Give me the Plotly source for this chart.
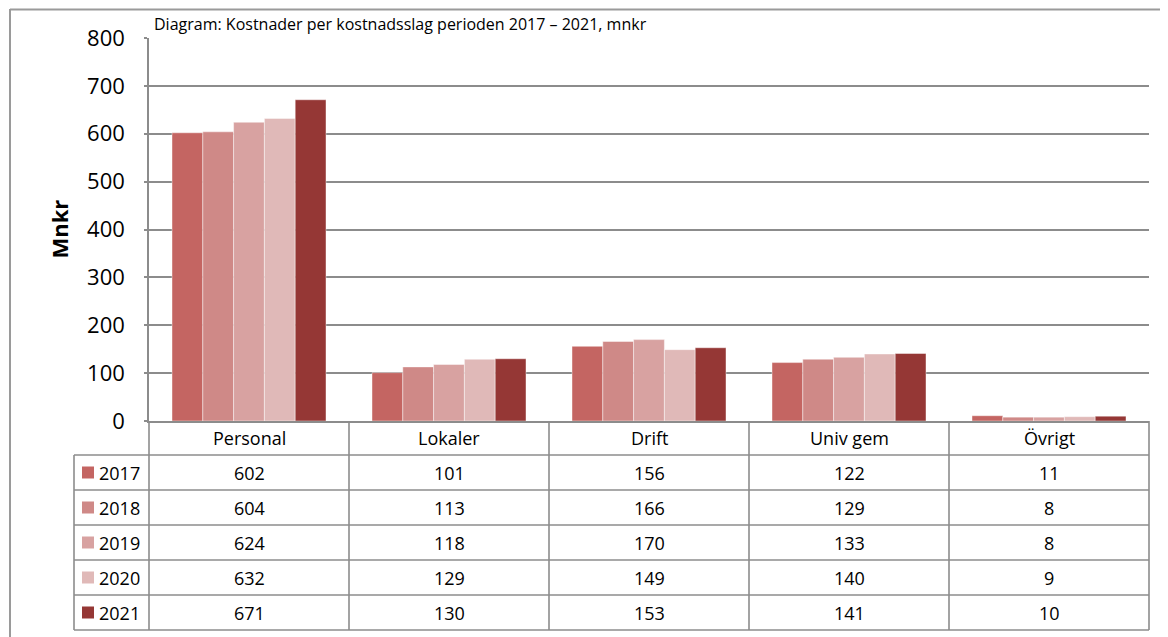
import plotly.graph_objects as go

categories = ["Personal", "Lokaler", "Drift", "Univ gem", "Övrigt"]
years = ["2017", "2018", "2019", "2020", "2021"]
v2017 = [602, 101, 156, 122, 11]
v2018 = [604, 113, 166, 129, 8]
v2019 = [624, 118, 170, 133, 8]
v2020 = [632, 129, 149, 140, 9]
v2021 = [671, 130, 153, 141, 10]
series = [v2017, v2018, v2019, v2020, v2021]
colors = ["#C46562", "#CF8987", "#D8A2A1", "#E0B9B8", "#953735"]
yticks = [0, 100, 200, 300, 400, 500, 600, 700, 800]
title_text = "Diagram: Kostnader per kostnadsslag perioden 2017 – 2021, mnkr"
ytitle = "Mnkr"

# page is offset by the default 8px body margin
OFF = 8
PAGE_W, PAGE_H = 1168, 637
W, H = PAGE_W - OFF, PAGE_H - OFF
# plot area in page pixels
L, R = 149, 1149
T, B = 38, 421
FONT = "Open Sans"
GRID = "#8C8C8C"
FRAME = "#9A9A9A"


def px(x):
    return (x - L) / (R - L)


def py(y):
    return (B - y) / (B - T)


fig = go.Figure()
for yr, vals, col in zip(years, series, colors):
    fig.add_trace(go.Bar(
        x=categories, y=vals, name=yr, marker_color=col,
        marker_line_color="rgba(255,255,255,0.55)", marker_line_width=0.8,
        showlegend=False,
    ))

shapes = []
annotations = []

# outer frame
shapes.append(dict(type="line", xref="paper", yref="paper",
                   x0=px(10), x1=px(1175), y0=py(9.5), y1=py(9.5),
                   line=dict(color=FRAME, width=2)))
shapes.append(dict(type="line", xref="paper", yref="paper",
                   x0=px(10), x1=px(10), y0=py(9), y1=py(645),
                   line=dict(color=FRAME, width=2)))

# data table geometry
header_top, header_bot = B, 455
row_h = 35
rows_top = [header_bot + i * row_h for i in range(len(years))]
table_bot = header_bot + row_h * len(years)
leg_left = 74
col_w = (R - L) / len(categories)

for i in range(len(categories) + 1):
    xx = L + i * col_w
    shapes.append(dict(type="line", xref="paper", yref="paper",
                       x0=px(xx), x1=px(xx), y0=py(header_top), y1=py(table_bot),
                       line=dict(color=GRID, width=1.6)))
shapes.append(dict(type="line", xref="paper", yref="paper",
                   x0=px(leg_left), x1=px(leg_left), y0=py(header_bot), y1=py(table_bot),
                   line=dict(color=GRID, width=1.6)))
for i in range(len(years) + 1):
    yy = header_bot + i * row_h
    shapes.append(dict(type="line", xref="paper", yref="paper",
                       x0=px(leg_left), x1=px(R), y0=py(yy), y1=py(yy),
                       line=dict(color=GRID, width=1.6)))

TFONT = dict(family=FONT, size=18, color="#000")
for i, c in enumerate(categories):
    annotations.append(dict(xref="paper", yref="paper",
                            x=px(L + (i + 0.5) * col_w), y=py((header_top + header_bot) / 2),
                            text=c, showarrow=False, xanchor="center", yanchor="middle",
                            font=TFONT))
for r, (yr, vals, col) in enumerate(zip(years, series, colors)):
    yc = rows_top[r] + row_h / 2
    shapes.append(dict(type="rect", xref="paper", yref="paper",
                       x0=px(82), x1=px(94), y0=py(yc - 6), y1=py(yc + 6),
                       fillcolor=col, line=dict(width=0)))
    annotations.append(dict(xref="paper", yref="paper", x=px(97), y=py(yc),
                            text=yr, showarrow=False, xanchor="left", yanchor="middle",
                            font=TFONT))
    for i, v in enumerate(vals):
        annotations.append(dict(xref="paper", yref="paper",
                                x=px(L + (i + 0.5) * col_w), y=py(yc),
                                text=str(v), showarrow=False, xanchor="center", yanchor="middle",
                                font=TFONT))

annotations.append(dict(xref="paper", yref="paper", x=px(58), y=0.5,
                        text="<b>" + ytitle + "</b>", textangle=-90, showarrow=False,
                        xanchor="center", yanchor="middle",
                        font=dict(family=FONT, size=22, color="#000")))
annotations.append(dict(xref="paper", yref="paper", x=px(152), y=py(11),
                        text=title_text, showarrow=False, xanchor="left", yanchor="top",
                        font=dict(family=FONT, size=16, color="#000")))

fig.update_layout(
    width=W, height=H,
    margin=dict(l=L - OFF, r=PAGE_W - R, t=T - OFF, b=PAGE_H - B, pad=0),
    paper_bgcolor="white", plot_bgcolor="white",
    barmode="group", bargap=0.23, bargroupgap=0,
    shapes=shapes, annotations=annotations,
    xaxis=dict(showticklabels=False, showgrid=False, showline=True,
               linecolor=GRID, linewidth=1.6, range=[-0.5, 4.5], ticks=""),
    yaxis=dict(range=[0, 800], tickvals=yticks, showgrid=True, gridcolor=GRID,
               gridwidth=1.6, showline=True, linecolor=GRID, linewidth=1.6,
               ticks="outside", ticklen=3, tickcolor=GRID, tickwidth=1.6,
               ticklabelstandoff=15, zeroline=False,
               tickfont=dict(family=FONT, size=22, color="#000")),
)

fig.write_html("out.html")
